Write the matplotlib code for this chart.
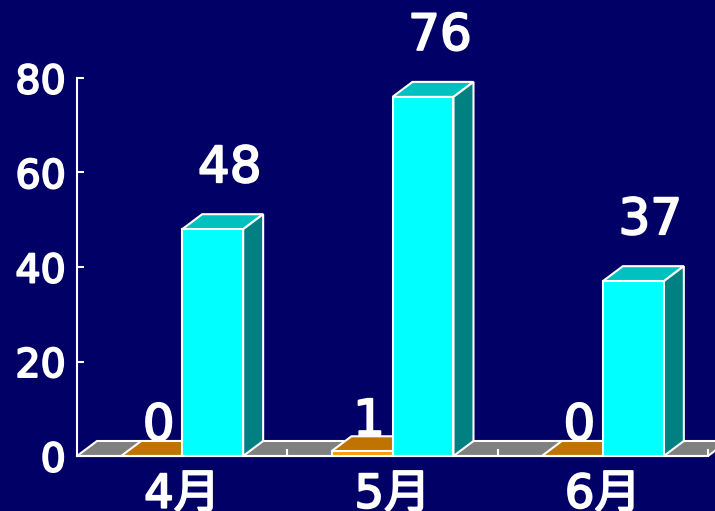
import matplotlib.pyplot as plt
import matplotlib.patheffects as pe
from matplotlib.patches import Polygon

# data
months = ["4月", "5月", "6月"]
series_orange = [0, 1, 0]
series_cyan = [48, 76, 37]
y_ticks = [0, 20, 40, 60, 80]

BG = "#000066"
W_PX, H_PX = 715, 511
DEPTH_X, DEPTH_Y = 20, 15  # 3d depth in pixels
BAR_W = 0.29

plt.rcParams["font.family"] = ["DejaVu Sans", "Noto Sans CJK JP"]
plt.rcParams["font.weight"] = "normal"
thick = [pe.withStroke(linewidth=1.4, foreground="white")]

fig = plt.figure(figsize=(W_PX / 100, H_PX / 100), dpi=100, facecolor=BG)
ax = fig.add_axes([77 / W_PX, 55 / H_PX, 631 / W_PX, 378 / H_PX])
ax.set_facecolor("none")
ax.set_xlim(-0.5, len(months) - 0.5)
ax.set_ylim(0, 80)

# depth in data units
pos = ax.get_position()
dx = DEPTH_X / (pos.width * W_PX) * (len(months))
dy = DEPTH_Y / (pos.height * H_PX) * 80


def face(pts, color, z):
    p = Polygon(pts, closed=True, facecolor=color, edgecolor="white",
                linewidth=1.5, zorder=z, clip_on=False, joinstyle="miter")
    ax.add_patch(p)


# floor
x0, x1 = ax.get_xlim()
face([(x0, 0), (x1, 0), (x1 + dx, dy), (x0 + dx, dy)], "#808080", 1)


def bar3d(xs, vals, front, top, side, z):
    bars = ax.bar(xs, vals, width=BAR_W, align="edge", color=front,
                  edgecolor="white", linewidth=1.5, zorder=z + 1)
    for b in bars:
        l, w, h = b.get_x(), b.get_width(), b.get_height()
        r = l + w
        face([(l, h), (r, h), (r + dx, h + dy), (l + dx, h + dy)], top, z)
        face([(r, 0), (r + dx, dy), (r + dx, h + dy), (r, h)], side, z)
    return bars


idx = list(range(len(months)))
for i in idx:
    bar3d([i - BAR_W], [series_orange[i]], "#FF9900", "#BF7300", "#805000", 2 + i * 4)
    bar3d([i], [series_cyan[i]], "#00FFFF", "#00C0C0", "#008080", 4 + i * 4)

for i in idx:
    ax.annotate(str(series_orange[i]), (i - BAR_W / 2 + dx / 2, series_orange[i] + dy),
                xytext=(-3, -9), textcoords="offset pixels", ha="center", va="bottom",
                color="white", fontsize=36, zorder=20, annotation_clip=False,
                path_effects=thick)
    ax.annotate(str(series_cyan[i]), (i + BAR_W / 2 + dx / 2, series_cyan[i] + dy),
                xytext=(7, 22), textcoords="offset pixels", ha="center", va="bottom",
                color="white", fontsize=36, zorder=20, annotation_clip=False,
                path_effects=thick)

# axes styling
for s in ["top", "right"]:
    ax.spines[s].set_visible(False)
for s in ["left", "bottom"]:
    ax.spines[s].set_color("white")
    ax.spines[s].set_linewidth(1.5)
    ax.spines[s].set_zorder(10)

ax.set_yticks(y_ticks)
ax.tick_params(axis="y", direction="in", length=5, width=1.5, color="white",
               labelcolor="white", labelsize=28.5, pad=8)
ax.set_xticks(idx)
ax.set_xticklabels(months)
ax.set_xticks([i + 0.5 for i in idx], minor=True)
ax.tick_params(axis="x", which="major", length=0, labelcolor="white",
               labelsize=33.5, pad=12)
ax.tick_params(axis="x", which="minor", direction="in", length=5, width=1.5,
               color="white")
for lab in ax.get_xticklabels() + ax.get_yticklabels():
    lab.set_path_effects(thick)

fig.savefig("out.png", dpi=100, facecolor=BG)
